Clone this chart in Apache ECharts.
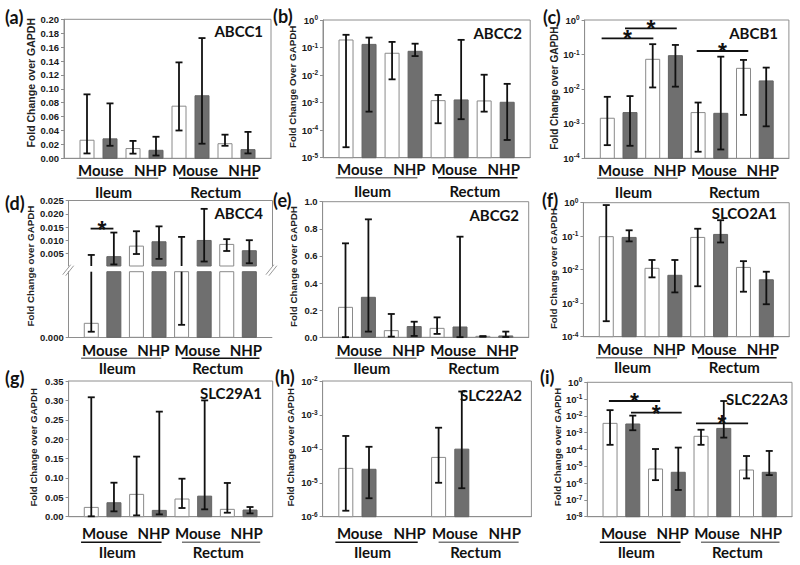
<!DOCTYPE html>
<html>
<head>
<meta charset="utf-8">
<title>Transporter expression, ileum and rectum</title>
<script src="https://cdn.jsdelivr.net/npm/echarts@6.0.0/dist/echarts.min.js"></script>
<style>
  html, body { margin: 0; padding: 0; background: #fff; }
  #main { width: 800px; height: 565px; }
</style>
</head>
<body>
<div id="main"></div>
<script>
// bar order in every panel: Ileum Mouse (open, filled), Ileum NHP (open, filled),
// Rectum Mouse (open, filled), Rectum NHP (open, filled)
var speciesNames = ['Mouse', 'NHP', 'Mouse', 'NHP'];
var tissueNames = ['Ileum', 'Rectum'];

var abcc1 = [0.026, 0.028, 0.014, 0.0115, 0.075, 0.090, 0.021, 0.0125];
var abcc1Lo = [0.007, 0.018, 0.0067, 0.004, 0.040, 0.021, 0.018, 0.007];
var abcc1Hi = [0.092, 0.079, 0.025, 0.031, 0.138, 0.173, 0.034, 0.038];

var abcc2 = [0.188, 0.13, 0.062, 0.073, 0.00118, 0.00125, 0.00115, 0.00103];
var abcc2Lo = [2.4e-5, 4.7e-4, 0.007, 0.049, 1.78e-4, 2.5e-4, 4.7e-4, 4.4e-5];
var abcc2Hi = [0.29, 0.23, 0.16, 0.138, 0.0019, 0.19, 0.0103, 0.0048];

var abcb1 = [0.00144, 0.0021, 0.073, 0.093, 0.0021, 0.002, 0.04, 0.0173];
var abcb1Lo = [2.4e-4, 2.3e-4, 0.0112, 0.0118, 1.55e-4, 1.8e-4, 0.0018, 8.4e-4];
var abcb1Hi = [0.006, 0.0063, 0.2, 0.19, 0.0041, 0.087, 0.07, 0.042];
var abcb1Sig = [[0.75, 3.03, 0.295], [1.78, 4.06, 0.57], [4.94, 7.21, 0.127]];

var abcc4 = [0.0000426, 0.00375, 0.00775, 0.0094, 0.0002, 0.0099, 0.0084, 0.006];
var abcc4Lo = [0.000017, 0.0008, 0.00475, 0.0029, 0.000038, 0.0019, 0.0059, 0.00125];
var abcc4Hi = [0.0044, 0.0129, 0.0134, 0.01525, 0.01125, 0.0219, 0.0104, 0.01];
var abcc4Sig = [[0.97, 1.98, 0.0144]];

var abcg2 = [0.221, 0.295, 0.049, 0.079, 0.066, 0.076, 0.007, 0.01];
var abcg2Lo = [0.001, 0.042, 0.005, 0.01, 0.025, 0.001, 0.004, 0.002];
var abcg2Hi = [0.693, 0.87, 0.172, 0.115, 0.147, 0.742, 0.009, 0.042];

var slco2a1 = [0.097, 0.092, 0.011, 0.0068, 0.092, 0.113, 0.0117, 0.005];
var slco2a1Lo = [2.9e-4, 0.07, 0.0059, 0.0021, 0.0032, 0.065, 0.0022, 9.3e-4];
var slco2a1Hi = [0.85, 0.15, 0.0195, 0.0195, 0.167, 0.30, 0.018, 0.0087];

var slc29a1 = [0.024, 0.036, 0.0576, 0.0163, 0.0456, 0.053, 0.019, 0.0172];
var slc29a1Lo = [0.001, 0.0138, 0.0034, 0.006, 0.0224, 0.019, 0.0103, 0.0086];
var slc29a1Hi = [0.308, 0.0877, 0.155, 0.271, 0.098, 0.30, 0.087, 0.025];

var slc22a2 = [2.66e-5, 2.5e-5, null, null, 5.6e-5, 9.8e-5, null, null];
var slc22a2Lo = [1.5e-6, 3.5e-6, null, null, 1.0e-5, 6.9e-6, null, null];
var slc22a2Hi = [2.4e-4, 1.15e-4, null, null, 4.2e-4, 4.9e-3, null, null];

var slc22a3 = [0.0036, 0.0033, 6.9e-6, 4.4e-6, 6.1e-4, 0.0018, 6.0e-6, 4.4e-6];
var slc22a3Lo = [1.9e-4, 0.0014, 1.5e-6, 3.9e-7, 1.9e-4, 5.1e-4, 1.9e-6, 3.0e-6];
var slc22a3Hi = [0.022, 0.0104, 1.07e-4, 1.3e-4, 0.0015, 0.077, 4.1e-5, 8.2e-5];
var slc22a3Sig = [[0.95, 3.2, 0.077], [1.92, 4.15, 0.0156], [4.78, 7.07, 0.0036]];

var abcc4Ticks = [0.005, 0.010, 0.015, 0.020, 0.025];

// layout
var speciesAt = [1.6, 3.75, 5.7, 7.85];
var tissueAt = [2.15, 6.6];
var underlineAt = [[0.55, 4.1], [5.0, 8.45]];
var rows = [{cat: 4, ul: 20, grp: 26}, {cat: 5, ul: 21, grp: 23}, {cat: 8.5, ul: 25.5, grp: 28}];
var frameColor = '#8e8e8e';
var ink = '#1a1a1a';
var tickFont = '"Liberation Sans", Arial, sans-serif';
var labelFont = 'Lato, "Liberation Sans", sans-serif';
var yName = 'Fold Change over GAPDH';

var panels = [
  {tag: '(a)', gene: 'ABCC1', mean: abcc1, lo: abcc1Lo, hi: abcc1Hi, log: false, min: 0, max: 0.2, step: 0.02, dec: 2,
   box: [64, 19.3, 271, 158.3], row: 0, nameSize: 10.5, nameGap: 26, nameShift: 6, tagPos: [5, 16.5], genePos: [263, 31], lines: ['#777', '#111']},
  {tag: '(b)', gene: 'ABCC2', mean: abcc2, lo: abcc2Lo, hi: abcc2Hi, log: true, min: 1e-5, max: 1,
   box: [323, 20, 530.2, 157.7], row: 0, name: 'Fold Change Over GAPDH', nameSize: 9.8, nameGap: 23, nameShift: 2, tagPos: [273, 15.8], genePos: [522, 33], lines: ['#777', '#111']},
  {tag: '(c)', gene: 'ABCB1', mean: abcb1, lo: abcb1Lo, hi: abcb1Hi, log: true, min: 1e-4, max: 1, sig: abcb1Sig,
   box: [584.6, 20, 788.9, 158.3], row: 0, nameSize: 10, nameGap: 23, nameShift: 1, tagPos: [543, 16.7], genePos: [778, 33], lines: ['#777', '#111']},
  {tag: '(d)', gene: 'ABCC4', mean: abcc4, lo: abcc4Lo, hi: abcc4Hi, broken: true, split: 0.0002, min: 0, max: 0.025, dec: 3, sig: abcc4Sig,
   box: [68.7, 200.7, 271.9, 337.3], upper: [200.7, 266], lower: [271.7, 337.3], row: 1, nameSize: 9.8, nameGap: 33, nameShift: 3, tagPos: [5, 202.6], genePos: [263, 213], lines: ['#777', '#111']},
  {tag: '(e)', gene: 'ABCG2', mean: abcg2, lo: abcg2Lo, hi: abcg2Hi, log: false, min: 0, max: 1, step: 0.2, dec: 1,
   box: [322.6, 201.7, 528.7, 337.3], row: 1, nameSize: 9.8, nameGap: 24, nameShift: 3, tagPos: [273, 200], genePos: [519, 215], lines: ['#777', '#111']},
  {tag: '(f)', gene: 'SLCO2A1', mean: slco2a1, lo: slco2a1Lo, hi: slco2a1Hi, log: true, min: 1e-4, max: 1,
   box: [583.4, 202.7, 789.2, 336.7], row: 1, nameSize: 9.8, nameGap: 24.5, nameShift: 1, tagPos: [542, 200], genePos: [777, 213], lines: ['#777', '#111']},
  {tag: '(g)', gene: 'SLC29A1', mean: slc29a1, lo: slc29a1Lo, hi: slc29a1Hi, log: false, min: 0, max: 0.35, step: 0.05, dec: 2,
   box: [68.6, 381, 272.7, 516.7], row: 2, nameSize: 9.6, nameGap: 30, nameShift: 1.5, tagPos: [5, 377.5], genePos: [262, 393], lines: ['#111', '#777']},
  {tag: '(h)', gene: 'SLC22A2', mean: slc22a2, lo: slc22a2Lo, hi: slc22a2Hi, log: true, min: 1e-6, max: 1e-2,
   box: [322.6, 381, 531.4, 516.7], row: 2, nameSize: 9.6, nameGap: 27.5, nameShift: 1.5, tagPos: [275, 376.5], genePos: [522, 395], lines: ['#111', '#777']},
  {tag: '(i)', gene: 'SLC22A3', mean: slc22a3, lo: slc22a3Lo, hi: slc22a3Hi, log: true, min: 1e-8, max: 1, sig: slc22a3Sig,
   box: [587.3, 382.3, 792, 516.7], row: 2, nameSize: 9.6, nameGap: 24, nameShift: 2.5, tagPos: [540, 376.5], genePos: [788, 399], lines: ['#111', '#777']}
];

var option = {animation: false, backgroundColor: '#fff', title: [], grid: [], xAxis: [], yAxis: [], series: []};

function nearest(list, v) {
  var best = 0;
  for (var i = 1; i < list.length; i++) {
    if (Math.abs(list[i] - v) < Math.abs(list[best] - v)) best = i;
  }
  return best;
}

function addGrid(left, top, right, bottom, border) {
  option.grid.push({left: left, top: top, width: right - left, height: bottom - top,
    show: border, borderColor: frameColor, borderWidth: 1, backgroundColor: 'transparent'});
  return option.grid.length - 1;
}

function tickLabel(p) {
  if (p.log) {
    return {
      margin: 5,
      formatter: function (v) { return '{b|10}{s|' + Math.round(Math.log(v) / Math.LN10) + '}'; },
      rich: {
        b: {fontSize: 9.5, fontWeight: 'bold', fontFamily: tickFont, color: ink, lineHeight: 12},
        s: {fontSize: 6.5, fontWeight: 'bold', fontFamily: tickFont, color: ink, lineHeight: 8, verticalAlign: 'top'}
      }
    };
  }
  return {margin: 5, fontSize: 9.5, fontWeight: 'bold', fontFamily: tickFont, color: ink,
    formatter: function (v) { return v.toFixed(p.dec); }};
}

function addX(gi, p, labels, pos) {
  var r = rows[p.row];
  option.xAxis.push({
    gridIndex: gi, type: 'value', min: 0, max: 9, position: pos || 'bottom',
    axisLine: {show: true, lineStyle: {color: frameColor, width: 1}},
    axisTick: {show: false}, splitLine: {show: false},
    axisLabel: labels ? {
      customValues: speciesAt, margin: r.cat, fontFamily: labelFont, fontWeight: 'bold', fontSize: 15, color: '#111',
      formatter: function (v) { return speciesNames[nearest(speciesAt, v)]; }
    } : {show: false}
  });
  var xi = option.xAxis.length - 1;
  if (labels) {
    option.xAxis.push({
      gridIndex: gi, type: 'value', min: 0, max: 9, position: 'bottom',
      axisLine: {show: false}, axisTick: {show: false}, splitLine: {show: false},
      axisLabel: {
        customValues: tissueAt, margin: r.grp, fontFamily: labelFont, fontWeight: 'bold', fontSize: 15, color: '#111',
        formatter: function (v) { return tissueNames[nearest(tissueAt, v)]; }
      }
    });
  }
  return xi;
}

function yNameStyle(p) {
  return {fontFamily: tickFont, fontWeight: 'bold', fontSize: p.nameSize, color: '#222', padding: [0, 0, 0, 2 * p.nameShift]};
}

// bars with error bars; values outside [lowB, highB] are cut at the grid edge
function barRenderer(lowB, highB) {
  return function (params, api) {
    var x = api.value(0), v = api.value(1), lo = api.value(2), hi = api.value(3);
    var grey = api.value(4) === 1;
    var base = api.coord([x, lowB]);
    var kids = [];
    if (v > lowB) {
      var top = api.coord([x, Math.min(v, highB)]);
      kids.push({type: 'rect', shape: {x: base[0] - 7, y: top[1], width: 14, height: base[1] - top[1]},
        style: {fill: grey ? '#6f6f6f' : '#fff', stroke: grey ? '#646464' : '#8a8a8a', lineWidth: 1}});
    }
    var a = Math.max(lo, lowB), b = Math.min(hi, highB);
    if (b > a) {
      var pa = api.coord([x, a]), pb = api.coord([x, b]);
      var st = {stroke: '#111', lineWidth: 1.8};
      kids.push({type: 'line', shape: {x1: pa[0], y1: pa[1], x2: pb[0], y2: pb[1]}, style: st});
      if (lo >= lowB) kids.push({type: 'line', shape: {x1: pa[0] - 3.5, y1: pa[1], x2: pa[0] + 3.5, y2: pa[1]}, style: st});
      if (hi <= highB) kids.push({type: 'line', shape: {x1: pb[0] - 3.5, y1: pb[1], x2: pb[0] + 3.5, y2: pb[1]}, style: st});
    }
    return {type: 'group', children: kids};
  };
}

function barData(p) {
  var out = [];
  for (var i = 0; i < p.mean.length; i++) {
    if (p.mean[i] == null) continue;
    out.push([i + 1, p.mean[i], p.lo[i], p.hi[i], i % 2]);
  }
  return out;
}

function addBars(xi, yi, p, lowB, highB) {
  option.series.push({type: 'custom', xAxisIndex: xi, yAxisIndex: yi, clip: false, silent: true, z: 2,
    data: barData(p), renderItem: barRenderer(lowB, highB)});
}

function addUnderlines(xi, yi, p, baseVal) {
  var off = rows[p.row].ul;
  option.series.push({type: 'custom', xAxisIndex: xi, yAxisIndex: yi, clip: false, silent: true, z: 3,
    data: underlineAt.map(function (u, k) { return [u[0], u[1], k]; }),
    renderItem: function (params, api) {
      var a = api.coord([api.value(0), baseVal]), b = api.coord([api.value(1), baseVal]);
      return {type: 'line', shape: {x1: a[0], y1: a[1] + off, x2: b[0], y2: a[1] + off},
        style: {stroke: p.lines[api.value(2)], lineWidth: 1.4}};
    }});
}

function addSig(xi, yi, sig) {
  option.series.push({type: 'custom', xAxisIndex: xi, yAxisIndex: yi, clip: false, silent: true, z: 4,
    data: sig,
    renderItem: function (params, api) {
      var a = api.coord([api.value(0), api.value(2)]), b = api.coord([api.value(1), api.value(2)]);
      return {type: 'group', children: [
        {type: 'line', shape: {x1: a[0], y1: a[1], x2: b[0], y2: b[1]}, style: {stroke: '#111', lineWidth: 1.8}},
        {type: 'text', x: (a[0] + b[0]) / 2, y: a[1] + 1,
          style: {text: '*', fill: '#111', font: 'bold 23px "Liberation Sans", Arial, sans-serif', align: 'center', verticalAlign: 'middle'}}
      ]};
    }});
}

function addTitles(p) {
  option.title.push({text: p.tag, left: p.tagPos[0], top: p.tagPos[1] - 10, padding: 0,
    textStyle: {fontFamily: labelFont, fontWeight: 'bold', fontSize: 18, lineHeight: 20, color: '#111'}});
  option.title.push({text: p.gene, right: 800 - p.genePos[0], top: p.genePos[1] - 9, padding: 0,
    textStyle: {fontFamily: labelFont, fontWeight: 'bold', fontSize: 15, lineHeight: 18, color: '#111'}});
}

panels.forEach(function (p) {
  addTitles(p);
  var b = p.box;
  if (!p.broken) {
    var gi = addGrid(b[0], b[1], b[2], b[3], true);
    var xi = addX(gi, p, true);
    option.yAxis.push({
      gridIndex: gi, type: p.log ? 'log' : 'value', logBase: 10, min: p.min, max: p.max, interval: p.log ? 1 : p.step,
      axisLine: {show: true, lineStyle: {color: frameColor, width: 1}},
      axisTick: {show: true, length: 3, lineStyle: {color: frameColor}},
      splitLine: {show: false}, axisLabel: tickLabel(p),
      name: p.name || yName, nameLocation: 'middle', nameRotate: 90, nameGap: p.nameGap, nameTextStyle: yNameStyle(p)
    });
    var yi = option.yAxis.length - 1;
    addBars(xi, yi, p, p.min, p.max);
    addUnderlines(xi, yi, p, p.min);
    if (p.sig) addSig(xi, yi, p.sig);
    return;
  }

  // broken axis: lower part 0..split, upper part split..max
  var gl = addGrid(b[0], p.lower[0], b[2], p.lower[1], false);
  var xl = addX(gl, p, true);
  option.yAxis.push({
    gridIndex: gl, type: 'value', min: 0, max: p.split,
    axisLine: {show: true, lineStyle: {color: frameColor}},
    axisTick: {show: true, length: 3, customValues: [0], lineStyle: {color: frameColor}},
    splitLine: {show: false},
    axisLabel: {customValues: [0], margin: 5, fontSize: 9.5, fontWeight: 'bold', fontFamily: tickFont, color: ink,
      formatter: function (v) { return v.toFixed(p.dec); }}
  });
  var yl = option.yAxis.length - 1;
  option.yAxis.push({gridIndex: gl, type: 'value', min: 0, max: p.split, position: 'right',
    axisLine: {show: true, lineStyle: {color: frameColor}}, axisTick: {show: false}, axisLabel: {show: false}, splitLine: {show: false}});
  addBars(xl, yl, p, 0, p.split);
  addUnderlines(xl, yl, p, 0);
  option.series.push({type: 'custom', xAxisIndex: xl, yAxisIndex: yl, clip: false, silent: true, z: 4,
    data: [[0, p.split], [9, p.split]],
    renderItem: function (params, api) {
      var c = api.coord([api.value(0), api.value(1)]);
      var st = {stroke: '#9a9a9a', lineWidth: 1};
      return {type: 'group', children: [
        {type: 'line', shape: {x1: c[0] - 6, y1: c[1] + 3, x2: c[0] + 2, y2: c[1] - 7}, style: st},
        {type: 'line', shape: {x1: c[0] - 3, y1: c[1] + 4, x2: c[0] + 5, y2: c[1] - 6}, style: st}
      ]};
    }});

  var gu = addGrid(b[0], p.upper[0], b[2], p.upper[1], false);
  var xu = addX(gu, p, false, 'top');
  option.yAxis.push({
    gridIndex: gu, type: 'value', min: p.split, max: p.max,
    axisLine: {show: true, lineStyle: {color: frameColor}},
    axisTick: {show: true, length: 3, customValues: abcc4Ticks, lineStyle: {color: frameColor}},
    splitLine: {show: false},
    axisLabel: {customValues: abcc4Ticks, margin: 5, fontSize: 9.5, fontWeight: 'bold', fontFamily: tickFont, color: ink,
      formatter: function (v) { return v.toFixed(p.dec); }}
  });
  var yu = option.yAxis.length - 1;
  option.yAxis.push({gridIndex: gu, type: 'value', min: p.split, max: p.max, position: 'right',
    axisLine: {show: true, lineStyle: {color: frameColor}}, axisTick: {show: false}, axisLabel: {show: false}, splitLine: {show: false}});
  addBars(xu, yu, p, p.split, p.max);
  if (p.sig) addSig(xu, yu, p.sig);

  // shared axis title over both parts
  var gn = addGrid(b[0], b[1], b[2], b[3], false);
  option.xAxis.push({gridIndex: gn, type: 'value', min: 0, max: 9, show: false});
  option.yAxis.push({gridIndex: gn, type: 'value', min: 0, max: 1,
    axisLine: {show: false}, axisTick: {show: false}, axisLabel: {show: false}, splitLine: {show: false},
    name: yName, nameLocation: 'middle', nameRotate: 90, nameGap: p.nameGap, nameTextStyle: yNameStyle(p)});
});

var chart = echarts.init(document.getElementById('main'), null, {renderer: 'svg'});
chart.setOption(option);
</script>
</body>
</html>
